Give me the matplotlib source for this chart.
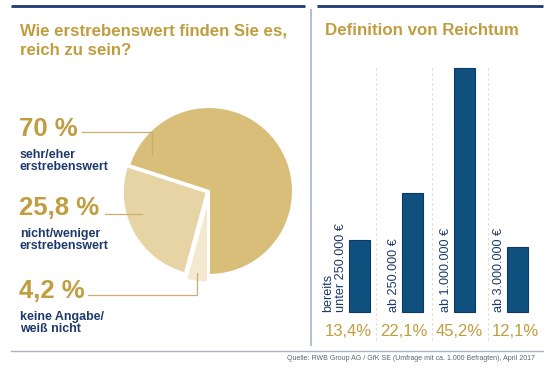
import numpy as np
import matplotlib.pyplot as plt

plt.rcParams['font.family'] = ['Liberation Sans', 'DejaVu Sans']

# pie data
pie_vals = [70, 25.8, 4.2]
pie_big = ['70 %', '25,8 %', '4,2 %']
pie_txt = ['sehr/eher\nerstrebenswert', 'nicht/weniger\nerstrebenswert', 'keine Angabe/\nweiß nicht']

# bar data
bar_vals = [13.4, 22.1, 45.2, 12.1]
bar_lbls = ['bereits\nunter 250.000 €', 'ab 250.000 €', 'ab 1.000.000 €', 'ab 3.000.000 €']
bar_pct = ['13,4%', '22,1%', '45,2%', '12,1%']

gold = '#C09D3E'
navy = '#1E3A6A'
barc = '#10507F'
W, H = 556, 372

fig = plt.figure(figsize=(W/100, H/100), dpi=100)
fig.patch.set_facecolor('white')

#pie axes, center (209,191) px, radius 84 px
r = 84
cx, cy = 209, 191
axp = fig.add_axes([(cx-1.25*r)/W, (H-cy-1.25*r)/H, 2.5*r/W, 2.5*r/H])
axp.pie(pie_vals, startangle=-90, counterclock=True,
        colors=['#D9BE79', '#E7D4A4', '#F3E9CF'],
        explode=(0, 0.03, 0.09),
        wedgeprops=dict(edgecolor='white', linewidth=1.5))
axp.set_xlim(-1.25, 1.25)
axp.set_ylim(-1.25, 1.25)
axp.set_aspect('equal')
axp.axis('off')

#bar axes
bx0 = 359.5   # px of bar 0 center
step = 52.7   # px per bar
ppu = 5.4     # px per percent
ybase = 312
left, right, top, bot = 322, 545, 60, 345
axb = fig.add_axes([left/W, (H-bot)/H, (right-left)/W, (bot-top)/H])
axb.set_xlim((left-bx0)/step, (right-bx0)/step)
axb.set_ylim(-(bot-ybase)/ppu, (ybase-top)/ppu)
axb.axis('off')
x = np.arange(len(bar_vals))
axb.bar(x, bar_vals, width=0.4, color=barc, edgecolor='#0B3A66', linewidth=0.8, zorder=3)
xl = x*1.06 - 0.22
for i in range(len(x)):
    axb.text(x[i]-0.24, 0, bar_lbls[i], rotation=90, ha='right', va='bottom',
             multialignment='left', fontsize=9.1, color=navy, linespacing=1.12)
    axb.text(xl[i], -20/ppu, bar_pct[i], ha='center', va='center',
             fontsize=12, color=gold)
for s in (xl[:-1]+xl[1:])/2:
    axb.plot([s, s], [-28/ppu, 245/ppu], color='#E6D9BC', lw=0.8,
             ls=(0, (2, 2.5)), zorder=1)

#overlay for lines and text, pixel coords
ax = fig.add_axes([0, 0, 1, 1], zorder=5)
ax.patch.set_alpha(0)
ax.set_xlim(0, W)
ax.set_ylim(H, 0)
ax.axis('off')

ax.plot([11, 305], [6, 6], color='#1B3A6E', lw=2, solid_capstyle='butt')
ax.plot([317, 543], [6, 6], color='#1B3A6E', lw=2, solid_capstyle='butt')
ax.plot([311, 311], [10, 345], color='#B5C1D0', lw=1.5)
ax.plot([11, 543], [351, 351], color='#AAB5C4', lw=1)

ax.text(20, 36, 'Wie erstrebenswert finden Sie es,', fontsize=12.1, fontweight='bold',
        color=gold, va='baseline')
ax.text(20, 55, 'reich zu sein?', fontsize=12.1, fontweight='bold', color=gold, va='baseline')
ax.text(325, 35, 'Definition von Reichtum', fontsize=12.2, fontweight='bold',
        color=gold, va='baseline')

big_y = [136, 215, 298]
for i in range(3):
    ax.text(19, big_y[i], pie_big[i], fontsize=18.5, fontweight='bold', color=gold, va='baseline')
    ax.text(20, big_y[i]+13, pie_txt[i], fontsize=8.9, fontweight='bold', color=navy,
            va='top', linespacing=1.05)

lc = '#C9AE73'
ax.plot([82, 152, 152], [132, 132, 155], color=lc, lw=0.9)
ax.plot([105, 142], [214, 214], color=lc, lw=0.9)
ax.plot([88, 197, 197], [295, 295, 273], color=lc, lw=0.9)

ax.text(535, 358, 'Quelle: RWB Group AG / GfK SE (Umfrage mit ca. 1.000 Befragten), April 2017',
        fontsize=5, color='#5A6470', ha='right', va='center')

fig.savefig('out.png', dpi=100)
